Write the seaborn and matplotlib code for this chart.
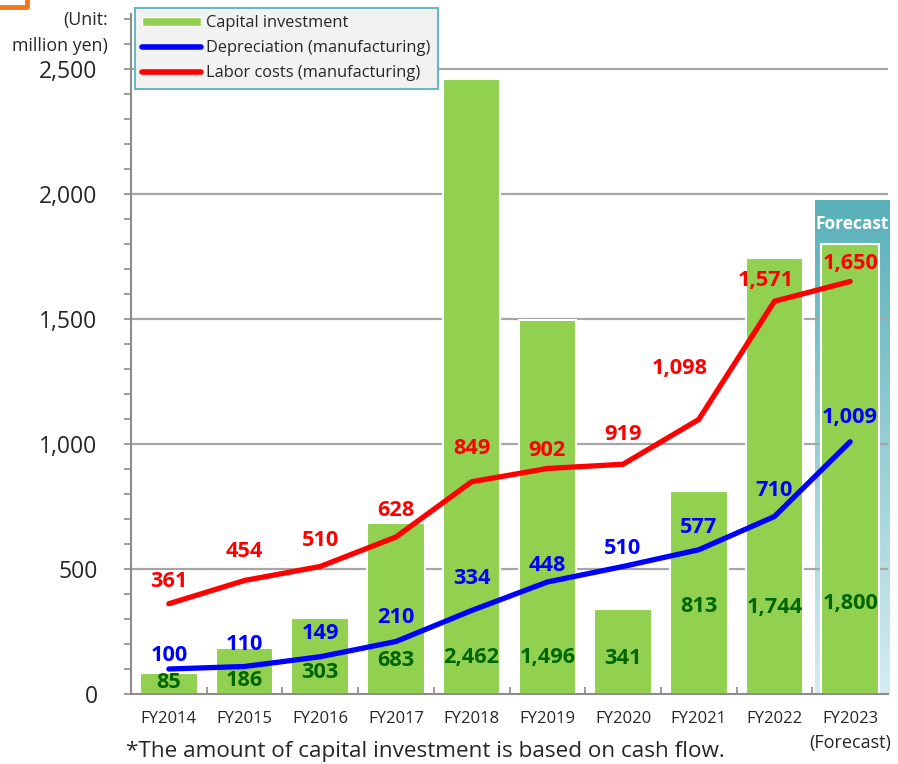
import numpy as np
import pandas as pd
import matplotlib
matplotlib.use("Agg")
import matplotlib.pyplot as plt
from matplotlib.patches import Patch
from matplotlib.lines import Line2D
from matplotlib.ticker import MultipleLocator, FuncFormatter
import seaborn as sns

# data
years = ["FY2014", "FY2015", "FY2016", "FY2017", "FY2018",
         "FY2019", "FY2020", "FY2021", "FY2022", "FY2023"]
capex = [85, 186, 303, 683, 2462, 1496, 341, 813, 1744, 1800]
depreciation = [100, 110, 149, 210, 334, 448, 510, 577, 710, 1009]
labor = [361, 454, 510, 628, 849, 902, 919, 1098, 1571, 1650]

# label placement (manual, like the original)
capex_label_y = [48, 56, 84, 132, 144, 144, 144, 348, 348, 364]
dep_label_dy = [10, 15.5, 16.4, 17.6, 23.4, 12.2, 12.6, 15.7, 18.4, 17.1]
labor_label_dy = [15.7, 21.2, 18.4, 19.4, 24.3, 12.6, 21.1, 36.4, 14.6, 12.6]
labor_label_dx = [0, 0, 0, 0, 0, 0, 0, -14, -6.5, 0]

GREEN = "#92D050"
DKGREEN = "#006600"

sns.set_style("white")
plt.rcParams['font.family'] = ['Open Sans', 'DejaVu Sans']

fig = plt.figure(figsize=(8.98, 7.64), dpi=100)
ax = fig.add_axes([131 / 898, 1 - 694 / 764, 757 / 898, 680 / 764])

df = pd.DataFrame({"Year": years, "Capex": capex})

# forecast background box (vertical gradient)
grad = np.linspace(0, 1, 256).reshape(256, 1, 1)
top = np.array([88, 176, 185]) / 255
bot = np.array([214, 236, 241]) / 255
img = top + (bot - top) * grad
ax.imshow(img, extent=(8.536, 9.526, 0, 1976), aspect="auto", zorder=0,
          clip_on=False)

# grid lines
for yv in range(500, 3000, 500):
    ax.axhline(yv, color="#A6A6A6", lw=1.6, zorder=0.5)

sns.barplot(data=df, x="Year", y="Capex", color=GREEN, width=0.76,
            edgecolor="white", linewidth=1.5, saturation=1, ax=ax, zorder=2)

x = np.arange(len(years))
sns.lineplot(x=x, y=depreciation, color="#0000FF", lw=3.8, ax=ax, zorder=3)
sns.lineplot(x=x, y=labor, color="#FF0000", lw=3.8, ax=ax, zorder=3)

lbl = dict(ha="center", va="center", fontsize=15.7, fontweight="bold",
           zorder=5)
for i in range(len(years)):
    ax.text(i, capex_label_y[i], f"{capex[i]:,}", color=DKGREEN, **lbl)
    ax.annotate(f"{depreciation[i]:,}", (i, depreciation[i]),
                xytext=(0, dep_label_dy[i]), textcoords="offset points",
                color="#0000FF", **lbl)
    ax.annotate(f"{labor[i]:,}", (i, labor[i]),
                xytext=(labor_label_dx[i], labor_label_dy[i]),
                textcoords="offset points", color="#FF0000", **lbl)

ax.text(9.03, 1880, "Forecast", color="white", fontsize=12.5,
        fontweight="bold", ha="center", va="center", zorder=5)

# axes styling
ax.set_xlim(-0.5, 9.5)
ax.set_ylim(0, 2720)
ax.set_xlabel("")
ax.set_ylabel("")
for s in ["top", "right"]:
    ax.spines[s].set_visible(False)
for s in ["left", "bottom"]:
    ax.spines[s].set_color("#8C8C8C")
    ax.spines[s].set_linewidth(1.5)

ax.yaxis.set_major_locator(MultipleLocator(500))
ax.yaxis.set_minor_locator(MultipleLocator(100))
ax.yaxis.set_major_formatter(FuncFormatter(lambda v, p: f"{int(v):,}"))
ax.tick_params(axis="y", which="both", direction="out", length=5,
               width=1.2, color="#8C8C8C", labelsize=16.5, pad=19)
ax.tick_params(axis="y", which="major", left=True)
ax.tick_params(axis="y", which="minor", left=True)

ax.set_xticks(x)
ax.set_xticklabels(years)
ax.tick_params(axis="x", which="major", length=0, labelsize=12, pad=12)
ax.set_xticks(np.arange(0.5, 9.5, 1), minor=True)
ax.tick_params(axis="x", which="minor", direction="in", length=5,
               width=1.2, color="#8C8C8C", bottom=True)

fig.text(108 / 898, 1 - 20 / 764, "(Unit:", ha="right", va="center",
         fontsize=12.8)
fig.text(108 / 898, 1 - 46 / 764, "million yen)", ha="right", va="center",
         fontsize=12.8)
fig.text(850 / 898, 1 - 743 / 764, "(Forecast)", ha="center", va="center",
         fontsize=13)
fig.text(126 / 898, 1 - 752 / 764,
         "*The amount of capital investment is based on cash flow.",
         ha="left", va="center", fontsize=16.2)

# orange corner mark
fig.add_artist(Line2D([0, 27 / 898, 27 / 898], [1 - 7 / 764, 1 - 7 / 764, 1],
                      color="#F07820", lw=3.5, transform=fig.transFigure))

handles = [Patch(facecolor=GREEN, edgecolor="white"),
           Line2D([], [], color="#0000FF", lw=4),
           Line2D([], [], color="#FF0000", lw=4)]
leg = fig.legend(handles,
                 ["Capital investment", "Depreciation (manufacturing)",
                  "Labor costs (manufacturing)"],
                 loc="upper left", bbox_to_anchor=(135 / 898, 1 - 8 / 764),
                 fontsize=11.8, frameon=True, fancybox=False,
                 handlelength=3.6, handleheight=0.5, handletextpad=0.3,
                 borderpad=0.45, labelspacing=0.55, borderaxespad=0)
leg.get_frame().set_facecolor("#F2F2F2")
leg.get_frame().set_edgecolor("#6CB8C2")
leg.get_frame().set_linewidth(1.5)
leg.get_frame().set_alpha(1)

fig.savefig("out.png", dpi=100)
